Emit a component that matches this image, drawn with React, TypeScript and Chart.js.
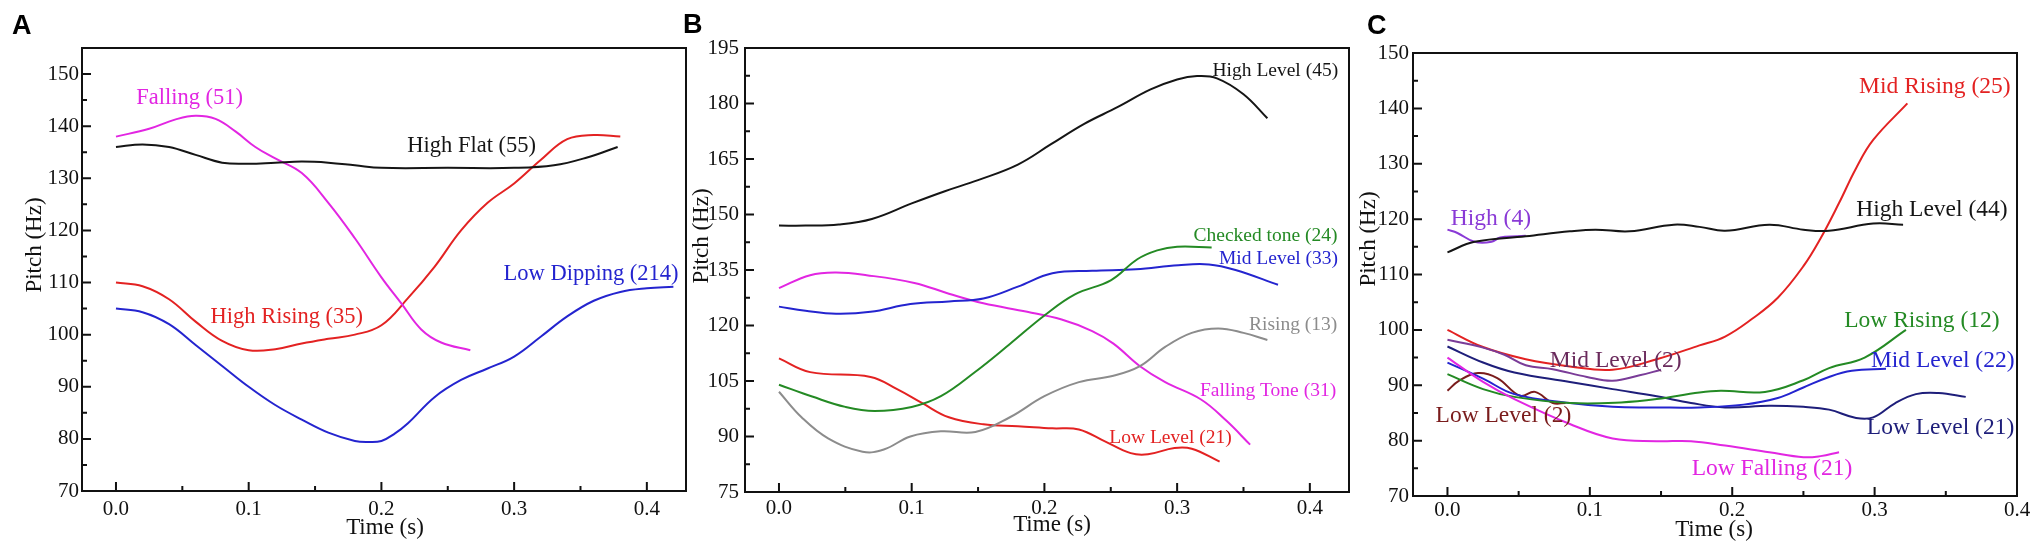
import React, { useEffect, useRef } from 'react';
import { Chart, registerables } from 'chart.js';

Chart.register(...registerables);

// ---------------- Panel A data ----------------
const A_HIGH_FLAT_T = [0, 0.02, 0.04, 0.06, 0.08, 0.1, 0.12, 0.14, 0.16, 0.18, 0.2, 0.25, 0.3, 0.33, 0.355, 0.378];
const A_HIGH_FLAT_HZ = [136, 136.5, 136, 134.5, 133, 132.8, 133, 133.2, 133, 132.5, 132, 132, 132, 132.5, 134, 136];
const A_FALLING_T = [0, 0.025, 0.045, 0.06, 0.075, 0.09, 0.105, 0.12, 0.14, 0.16, 0.18, 0.2, 0.215, 0.23, 0.245, 0.267];
const A_FALLING_HZ = [138, 139.5, 141.3, 142, 141.4, 139, 136, 133.8, 131, 125.3, 118.5, 111, 106, 101, 98.5, 97];
const A_HIGH_RISING_T = [0, 0.02, 0.04, 0.06, 0.08, 0.1, 0.12, 0.14, 0.16, 0.18, 0.2, 0.22, 0.24, 0.26, 0.28, 0.3, 0.32, 0.34, 0.36, 0.38];
const A_HIGH_RISING_HZ = [110, 109.3, 106.8, 102.5, 98.8, 97, 97.2, 98.3, 99.2, 100, 101.8, 107, 113, 120, 125.3, 129, 133.5, 137.5, 138.3, 138];
const A_LOW_DIPPING_T = [0, 0.02, 0.04, 0.06, 0.08, 0.1, 0.12, 0.14, 0.16, 0.18, 0.19, 0.2, 0.21, 0.22, 0.24, 0.26, 0.28, 0.3, 0.32, 0.34, 0.36, 0.38, 0.4, 0.42];
const A_LOW_DIPPING_HZ = [105, 104.3, 102, 98, 94, 90, 86.5, 83.7, 81.2, 79.6, 79.4, 79.6, 81, 83, 88, 91.3, 93.5, 95.8, 99.6, 103.5, 106.5, 108.2, 108.9, 109.2];

const A_LABEL_TEXT = ['Falling (51)', 'High Flat (55)', 'High Rising (35)', 'Low Dipping (214)'];
const A_LABEL_T = [0.0555, 0.268, 0.1287, 0.358];
const A_LABEL_HZ = [145.4, 136.2, 103.3, 111.7];

// ---------------- Panel B data ----------------
const B_HIGH_T = [0, 0.02, 0.045, 0.07, 0.1, 0.125, 0.15, 0.18, 0.205, 0.23, 0.255, 0.28, 0.3, 0.315, 0.33, 0.35, 0.368];
const B_HIGH_HZ = [147, 147, 147.3, 148.8, 153, 156.3, 159.3, 163.5, 169, 174.5, 179, 183.8, 186.5, 187.4, 186.8, 182.5, 176];
const B_CHECKED_T = [0, 0.025, 0.05, 0.072, 0.1, 0.122, 0.148, 0.174, 0.2, 0.223, 0.25, 0.27, 0.285, 0.3, 0.326];
const B_CHECKED_HZ = [104, 100.8, 98, 96.9, 98, 100.9, 107.5, 115, 122.7, 128.4, 132.2, 137.9, 140.3, 141.3, 141.1];
const B_MID_T = [0, 0.02, 0.043, 0.069, 0.099, 0.128, 0.154, 0.18, 0.206, 0.236, 0.269, 0.301, 0.324, 0.344, 0.376];
const B_MID_HZ = [125.1, 124, 123.2, 123.7, 125.8, 126.5, 127.3, 130.5, 134.1, 134.8, 135.2, 136.3, 136.5, 135, 131];
const B_RISING_T = [0, 0.017, 0.037, 0.063, 0.079, 0.099, 0.122, 0.148, 0.174, 0.2, 0.226, 0.252, 0.272, 0.291, 0.311, 0.331, 0.35, 0.368];
const B_RISING_HZ = [102.1, 95.2, 89.5, 85.9, 86.5, 90, 91.4, 91.2, 95.2, 100.9, 104.7, 106.4, 109, 114.2, 118, 119.2, 118, 116.1];
const B_FALLING_T = [0, 0.0235, 0.043, 0.066, 0.102, 0.128, 0.154, 0.187, 0.213, 0.236, 0.252, 0.272, 0.291, 0.318, 0.337, 0.355];
const B_FALLING_HZ = [130.1, 133.6, 134.3, 133.6, 131.5, 128.6, 126, 123.7, 121.6, 118.5, 115.1, 109, 104.7, 100, 94.3, 87.8];
const B_LOW_T = [0, 0.0235, 0.069, 0.089, 0.108, 0.128, 0.154, 0.18, 0.206, 0.226, 0.246, 0.265, 0.278, 0.298, 0.311, 0.332];
const B_LOW_HZ = [111.1, 107.4, 106.1, 102.8, 99, 95.2, 93.3, 92.8, 92.2, 91.9, 88.6, 85.5, 85.2, 86.9, 86.7, 83.2];

const B_LABEL_TEXT = ['High Level (45)', 'Checked tone (24)', 'Mid Level (33)', 'Rising (13)', 'Falling Tone (31)', 'Low Level (21)'];
const B_LABEL_T = [0.374, 0.3666, 0.3764, 0.3874, 0.3685, 0.295];
const B_LABEL_HZ = [188.7, 144.2, 138.0, 120.1, 102.4, 89.6];

// ---------------- Panel C data ----------------
const C_MID_RISING_T = [0, 0.025, 0.055, 0.086, 0.116, 0.147, 0.177, 0.195, 0.214, 0.232, 0.25, 0.262, 0.275, 0.287, 0.299, 0.323];
const C_MID_RISING_HZ = [100, 96.9, 94.7, 93.4, 92.8, 94.7, 97.2, 98.8, 102, 105.8, 111.5, 116.5, 122.9, 129.2, 134.3, 140.9];
const C_HIGH_LEVEL_T = [0, 0.019, 0.055, 0.086, 0.104, 0.128, 0.159, 0.177, 0.195, 0.226, 0.25, 0.268, 0.299, 0.32];
const C_HIGH_LEVEL_HZ = [114, 115.9, 116.9, 117.8, 118.1, 117.8, 119, 118.6, 117.9, 119, 118.1, 117.9, 119.2, 119];
const C_HIGH_T = [0, 0.007, 0.019, 0.031, 0.037, 0.049, 0.055];
const C_HIGH_HZ = [118.1, 117.5, 115.9, 115.9, 116.7, 116.9, 117];
const C_MID_LEVEL2_T = [0, 0.025, 0.04, 0.055, 0.074, 0.098, 0.116, 0.135, 0.15];
const C_MID_LEVEL2_HZ = [98.2, 96.8, 95.5, 93.6, 92.9, 91.5, 90.8, 91.8, 92.8];
const C_LOW_LEVEL2_T = [0, 0.008, 0.0215, 0.035, 0.051, 0.0615, 0.074, 0.083];
const C_LOW_LEVEL2_HZ = [89, 90.8, 92.2, 91.3, 88.1, 88.8, 86.8, 86.8];
const C_LOW_RISING_T = [0, 0.025, 0.047, 0.086, 0.122, 0.147, 0.177, 0.192, 0.223, 0.25, 0.268, 0.293, 0.322];
const C_LOW_RISING_HZ = [92, 89.3, 87.9, 86.8, 86.9, 87.5, 88.7, 89, 88.8, 90.9, 93.1, 95, 100];
const C_MID_LEVEL22_T = [0, 0.025, 0.047, 0.086, 0.116, 0.147, 0.177, 0.208, 0.232, 0.25, 0.268, 0.284, 0.308];
const C_MID_LEVEL22_HZ = [94.1, 91.2, 88.4, 86.8, 86.1, 86, 86, 86.5, 87.7, 89.6, 91.5, 92.6, 93];
const C_LOW_LEVEL21_T = [0, 0.025, 0.047, 0.086, 0.116, 0.147, 0.171, 0.195, 0.226, 0.25, 0.268, 0.287, 0.299, 0.314, 0.329, 0.345, 0.364];
const C_LOW_LEVEL21_HZ = [97, 94.1, 92.3, 90.6, 89.3, 88, 86.8, 86, 86.3, 86.1, 85.6, 84.1, 84.2, 86.7, 88.4, 88.6, 87.9];
const C_LOW_FALLING_T = [0, 0.025, 0.047, 0.086, 0.116, 0.147, 0.171, 0.195, 0.226, 0.25, 0.262, 0.275];
const C_LOW_FALLING_HZ = [95, 90.6, 87.5, 83, 80.4, 79.9, 79.9, 79.1, 77.9, 77, 77.2, 77.9];

const C_LABEL_TEXT = ['Mid Rising (25)', 'High Level (44)', 'High (4)', 'Mid Level (2)', 'Low Rising (12)', 'Mid Level (22)', 'Low Level (2)', 'Low Level (21)', 'Low Falling (21)'];
const C_LABEL_T = [0.3423, 0.3402, 0.0305, 0.1182, 0.3332, 0.3478, 0.0393, 0.3463, 0.2279];
const C_LABEL_HZ = [143.9, 121.7, 120.0, 94.4, 101.6, 94.4, 84.45, 82.4, 74.95];

// ---------------- styling ----------------
const SERIF = '"Liberation Serif", "Times New Roman", serif';
const SANS = '"Liberation Sans", Arial, sans-serif';

const BLACK = '#151515';
const MAGENTA = '#e226e2';
const RED = '#e32222';
const BLUE = '#2424cf';
const GREEN = '#248a24';
const GRAY = '#8c8c8c';
const NAVY = '#1e1e7a';
const PURPLE = '#8a3ad6';
const PLUM = '#7a3c98';
const PLUM_TEXT = '#6a2a5c';
const BROWN = '#7a1c1c';

type Series = { t: number[]; hz: number[]; color: string };
type Labels = { text: string[]; t: number[]; hz: number[]; colors: string[]; size: number };

interface Panel {
  letter: string;
  left: number;
  width: number;
  area: { left: number; top: number; right: number; bottom: number };
  xMin: number;
  xMax: number;
  yMin: number;
  yMax: number;
  yStep: number;
  yTickPad: number;
  xTickPad: number;
  series: Series[];
  labels: Labels;
  letterPos: [number, number];
  yTitle: [number, number];
  xTitle: [number, number];
}

const PANELS: Panel[] = [
  {
    letter: 'A',
    left: 0,
    width: 700,
    area: { left: 82, top: 48, right: 686, bottom: 491 },
    xMin: -0.0256,
    xMax: 0.4295,
    yMin: 70,
    yMax: 155,
    yStep: 10,
    yTickPad: 3,
    xTickPad: 6,
    series: [
      { t: A_HIGH_FLAT_T, hz: A_HIGH_FLAT_HZ, color: BLACK },
      { t: A_FALLING_T, hz: A_FALLING_HZ, color: MAGENTA },
      { t: A_HIGH_RISING_T, hz: A_HIGH_RISING_HZ, color: RED },
      { t: A_LOW_DIPPING_T, hz: A_LOW_DIPPING_HZ, color: BLUE },
    ],
    labels: { text: A_LABEL_TEXT, t: A_LABEL_T, hz: A_LABEL_HZ, colors: [MAGENTA, BLACK, RED, BLUE], size: 22.5 },
    letterPos: [12, 34],
    yTitle: [35, 245],
    xTitle: [385, 528],
  },
  {
    letter: 'B',
    left: 680,
    width: 690,
    area: { left: 65, top: 48, right: 669, bottom: 492 },
    xMin: -0.0256,
    xMax: 0.4295,
    yMin: 75,
    yMax: 195,
    yStep: 15,
    yTickPad: 6,
    xTickPad: 4,
    series: [
      { t: B_HIGH_T, hz: B_HIGH_HZ, color: BLACK },
      { t: B_CHECKED_T, hz: B_CHECKED_HZ, color: GREEN },
      { t: B_MID_T, hz: B_MID_HZ, color: BLUE },
      { t: B_RISING_T, hz: B_RISING_HZ, color: GRAY },
      { t: B_FALLING_T, hz: B_FALLING_HZ, color: MAGENTA },
      { t: B_LOW_T, hz: B_LOW_HZ, color: RED },
    ],
    labels: { text: B_LABEL_TEXT, t: B_LABEL_T, hz: B_LABEL_HZ, colors: [BLACK, GREEN, BLUE, GRAY, MAGENTA, RED], size: 19.5 },
    letterPos: [3, 33],
    yTitle: [22, 236],
    xTitle: [372, 525],
  },
  {
    letter: 'C',
    left: 1355,
    width: 678,
    area: { left: 58, top: 53, right: 662, bottom: 496 },
    xMin: -0.0242,
    xMax: 0.4,
    yMin: 70,
    yMax: 150,
    yStep: 10,
    yTickPad: 4,
    xTickPad: 2,
    series: [
      { t: C_HIGH_LEVEL_T, hz: C_HIGH_LEVEL_HZ, color: BLACK },
      { t: C_HIGH_T, hz: C_HIGH_HZ, color: PURPLE },
      { t: C_LOW_FALLING_T, hz: C_LOW_FALLING_HZ, color: MAGENTA },
      { t: C_LOW_RISING_T, hz: C_LOW_RISING_HZ, color: GREEN },
      { t: C_MID_LEVEL22_T, hz: C_MID_LEVEL22_HZ, color: BLUE },
      { t: C_LOW_LEVEL21_T, hz: C_LOW_LEVEL21_HZ, color: NAVY },
      { t: C_LOW_LEVEL2_T, hz: C_LOW_LEVEL2_HZ, color: BROWN },
      { t: C_MID_LEVEL2_T, hz: C_MID_LEVEL2_HZ, color: PLUM },
      { t: C_MID_RISING_T, hz: C_MID_RISING_HZ, color: RED },
    ],
    labels: {
      text: C_LABEL_TEXT,
      t: C_LABEL_T,
      hz: C_LABEL_HZ,
      colors: [RED, BLACK, PURPLE, PLUM_TEXT, GREEN, BLUE, BROWN, NAVY, MAGENTA],
      size: 23.5,
    },
    letterPos: [12, 34],
    yTitle: [14, 239],
    xTitle: [359, 530],
  },
];

const Y_AXIS_W = 50;
const X_AXIS_H = 40;
const H = 550;

function PanelChart({ p }: { p: Panel }) {
  const ref = useRef<HTMLCanvasElement | null>(null);
  useEffect(() => {
    const canvas = ref.current;
    if (!canvas) return;
    const framePlugin = {
      id: 'frame' + p.letter,
      afterDatasetsDraw(chart: any) {
        const { ctx, chartArea: a, scales } = chart;
        const xs = scales.x;
        const ys = scales.y;
        ctx.save();
        ctx.strokeStyle = '#111';
        ctx.lineWidth = 2;
        ctx.strokeRect(a.left, a.top, a.right - a.left, a.bottom - a.top);
        ctx.beginPath();
        // x ticks (major 0.1, minor 0.05)
        const x0 = Math.ceil(p.xMin / 0.05 - 1e-9);
        const x1 = Math.floor(p.xMax / 0.05 + 1e-9);
        for (let k = x0; k <= x1; k++) {
          const v = k * 0.05;
          const px = xs.getPixelForValue(v);
          const len = k % 2 === 0 ? 9 : 5;
          ctx.moveTo(px, a.bottom);
          ctx.lineTo(px, a.bottom - len);
        }
        // y ticks (major step, minor half step)
        const half = p.yStep / 2;
        const y0 = Math.ceil(p.yMin / half - 1e-9);
        const y1 = Math.floor(p.yMax / half + 1e-9);
        for (let k = y0; k <= y1; k++) {
          const v = k * half;
          const py = ys.getPixelForValue(v);
          const len = k % 2 === 0 ? 9 : 5;
          ctx.moveTo(a.left, py);
          ctx.lineTo(a.left + len, py);
        }
        ctx.stroke();

        // curve labels
        ctx.font = `${p.labels.size}px ${SERIF}`;
        ctx.textAlign = 'center';
        ctx.textBaseline = 'middle';
        p.labels.text.forEach((txt, i) => {
          ctx.fillStyle = p.labels.colors[i];
          ctx.fillText(txt, xs.getPixelForValue(p.labels.t[i]), ys.getPixelForValue(p.labels.hz[i]));
        });

        // panel letter
        ctx.fillStyle = '#000';
        ctx.font = `bold 27px ${SANS}`;
        ctx.textAlign = 'left';
        ctx.textBaseline = 'alphabetic';
        ctx.fillText(p.letter, p.letterPos[0], p.letterPos[1]);

        // axis titles
        ctx.font = `23px ${SERIF}`;
        ctx.textAlign = 'center';
        ctx.textBaseline = 'middle';
        ctx.fillStyle = '#111';
        ctx.fillText('Time (s)', p.xTitle[0], p.xTitle[1]);
        ctx.translate(p.yTitle[0], p.yTitle[1]);
        ctx.rotate(-Math.PI / 2);
        ctx.fillText('Pitch (Hz)', 0, 0);
        ctx.restore();
      },
    };

    const chart = new Chart(canvas, {
      type: 'line',
      data: {
        datasets: p.series.map((s) => ({
          data: s.t.map((t, i) => ({ x: t, y: s.hz[i] })),
          borderColor: s.color,
          borderWidth: 2,
          pointRadius: 0,
          fill: false,
          tension: 0.4,
          cubicInterpolationMode: 'default' as const,
        })),
      },
      options: {
        animation: false,
        responsive: false,
        events: [],
        layout: {
          padding: {
            left: p.area.left - Y_AXIS_W,
            top: p.area.top,
            right: p.width - p.area.right,
            bottom: H - p.area.bottom - X_AXIS_H,
          },
        },
        plugins: { legend: { display: false }, tooltip: { enabled: false }, title: { display: false } },
        scales: {
          x: {
            type: 'linear',
            min: p.xMin,
            max: p.xMax,
            grid: { display: false, drawTicks: false },
            border: { display: false },
            ticks: {
              stepSize: 0.1,
              includeBounds: false,
              maxRotation: 0,
              autoSkip: false,
              padding: p.xTickPad,
              color: '#111',
              font: { family: SERIF, size: 21 },
              callback: (v: any) => Number(v).toFixed(1),
            },
            afterFit: (s: any) => {
              s.height = X_AXIS_H;
            },
          },
          y: {
            type: 'linear',
            min: p.yMin,
            max: p.yMax,
            grid: { display: false, drawTicks: false },
            border: { display: false },
            ticks: {
              stepSize: p.yStep,
              includeBounds: false,
              autoSkip: false,
              padding: p.yTickPad,
              color: '#111',
              font: { family: SERIF, size: 21 },
              callback: (v: any) => String(Math.round(Number(v))),
            },
            afterFit: (s: any) => {
              s.width = Y_AXIS_W;
            },
          },
        },
      },
      plugins: [framePlugin],
    } as any);
    return () => chart.destroy();
  }, [p]);
  return (
    <canvas
      ref={ref}
      width={p.width}
      height={H}
      style={{ position: 'absolute', left: p.left, top: 0, width: p.width, height: H }}
    />
  );
}

export default function App() {
  return (
    <div style={{ position: 'absolute', left: 0, top: 0, width: 2033, height: H, background: '#fff', overflow: 'hidden' }}>
      {PANELS.map((p) => (
        <PanelChart key={p.letter} p={p} />
      ))}
    </div>
  );
}
